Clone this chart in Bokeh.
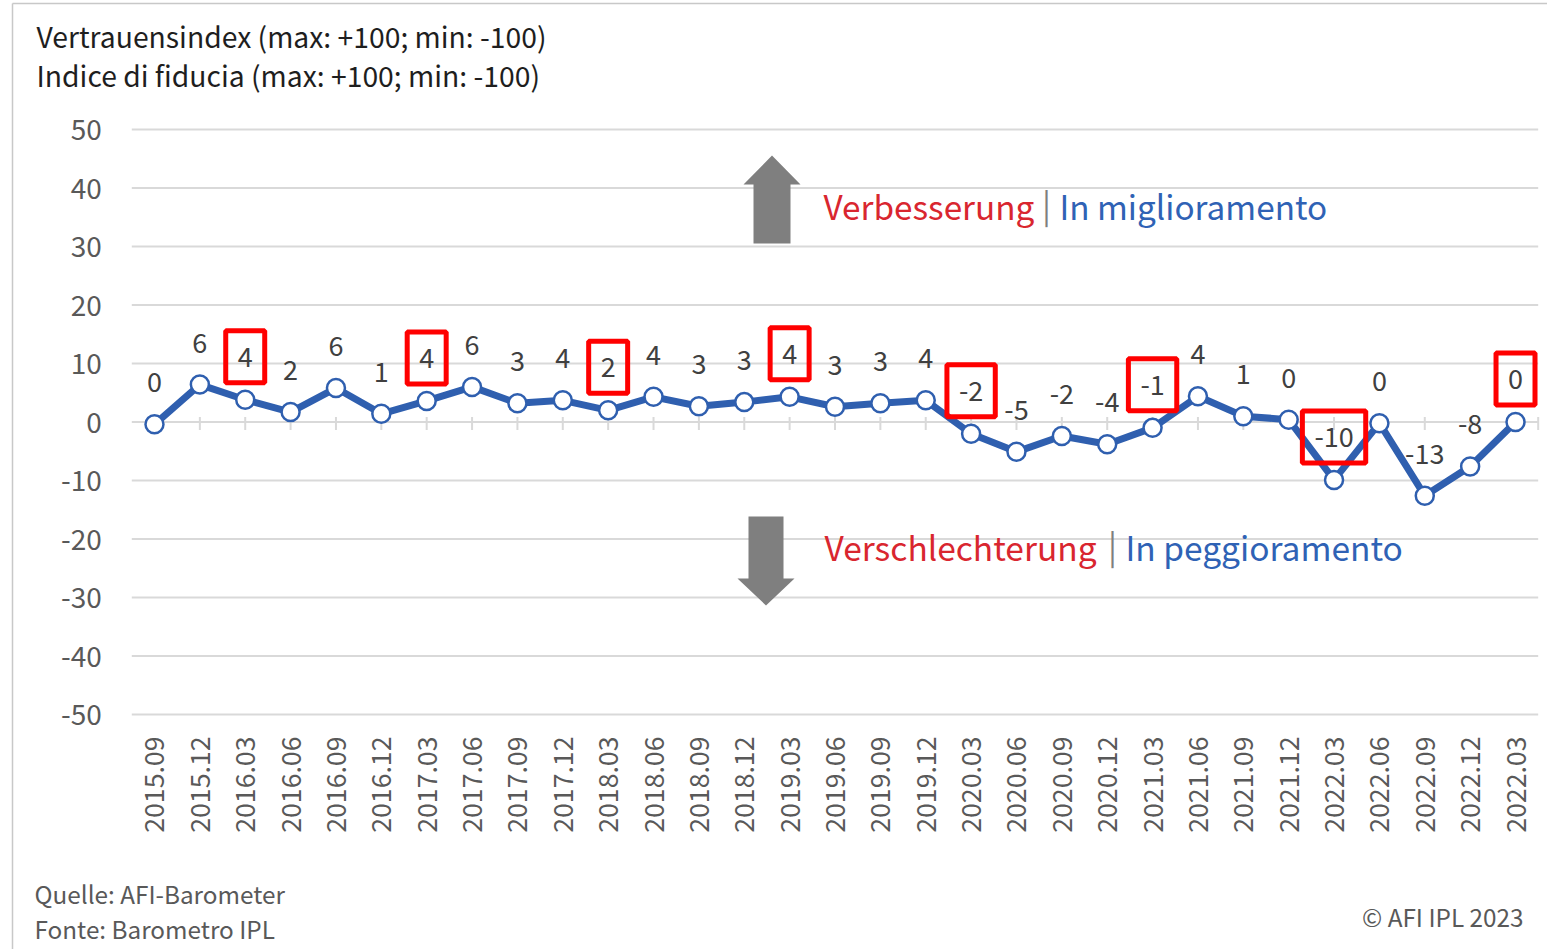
from bokeh.plotting import figure
from bokeh.models import Range1d, Label, ColumnDataSource, FixedTicker
from bokeh.core.properties import value
from bokeh.embed import file_html
from bokeh.resources import INLINE
import math

# ---------------- data ----------------
periods = ["2015.09", "2015.12", "2016.03", "2016.06", "2016.09", "2016.12",
           "2017.03", "2017.06", "2017.09", "2017.12", "2018.03", "2018.06",
           "2018.09", "2018.12", "2019.03", "2019.06", "2019.09", "2019.12",
           "2020.03", "2020.06", "2020.09", "2020.12", "2021.03", "2021.06",
           "2021.09", "2021.12", "2022.03", "2022.06", "2022.09", "2022.12",
           "2022.03"]
index_values = [-0.4, 6.4, 3.8, 1.7, 5.8, 1.4, 3.6, 6.0, 3.2, 3.7, 2.0, 4.3,
                2.7, 3.4, 4.3, 2.6, 3.2, 3.7, -2.0, -5.1, -2.4, -3.8, -1.0, 4.4,
                1.0, 0.4, -9.9, -0.2, -12.6, -7.6, 0.0]
value_labels = ["0", "6", "4", "2", "6", "1", "4", "6", "3", "4", "2", "4",
                "3", "3", "4", "3", "3", "4", "-2", "-5", "-2", "-4", "-1", "4",
                "1", "0", "-10", "0", "-13", "-8", "0"]
highlighted_idx = [2, 6, 10, 14, 18, 22, 26, 30]
y_ticks = [-50, -40, -30, -20, -10, 0, 10, 20, 30, 40, 50]
y_tick_labels = ["-50", "-40", "-30", "-20", "-10", "0", "10", "20", "30", "40", "50"]

title_lines = ["Vertrauensindex (max: +100; min: -100)",
               "Indice di fiducia (max: +100; min: -100)"]
source_lines = ["Quelle: AFI-Barometer", "Fonte: Barometro IPL"]
copyright_text = "© AFI IPL 2023"
up_de, up_it = "Verbesserung", "In miglioramento"
down_de, down_it = "Verschlechterung", "In peggioramento"

# ---------------- layout (picture pixels) ----------------
FONT = "Noto Sans CJK SC"
n = len(periods)
xs = list(range(n))
YMIN, YMAX = y_ticks[0], y_ticks[-1]

W, H = 1547, 949           # canvas size
XL, XR = 131.3, 1537.7     # x of plot area left / right
YT, YB = 129.0, 714.0      # y of +50 / -50
PPX = (XR - XL) / n
PPY = (YB - YT) / (YMAX - YMIN)

def dx(px):
    return -0.5 + (px - XL) / PPX
def dy(py):
    return YMAX - (py - YT) / PPY

p = figure(width=W, height=H,
           min_border_left=0, min_border_right=0, min_border_top=0, min_border_bottom=0,
           x_range=Range1d(dx(0), dx(W)), y_range=Range1d(dy(H), dy(0)),
           output_backend="svg", toolbar_location=None)
p.title.visible = False
p.outline_line_color = None
p.background_fill_color = "white"
p.border_fill_color = "white"
p.xgrid.visible = False
p.ygrid.visible = False

# chart-area border (left and top edge)
p.segment(x0=[dx(12), dx(12)], y0=[dy(3), dy(3)], x1=[dx(12), dx(W)], y1=[dy(H), dy(3)],
          line_color="#c8c8c8", line_width=1.5)

# horizontal grid lines at the y ticks
p.segment(x0=[-0.5] * len(y_ticks), y0=y_ticks, x1=[n - 0.5] * len(y_ticks), y1=y_ticks,
          line_color="#d9d9d9", line_width=2)

# y axis
p.yaxis.fixed_location = -0.5
p.yaxis.ticker = FixedTicker(ticks=y_ticks)
p.yaxis.major_label_overrides = {t: l for t, l in zip(y_ticks, y_tick_labels)}
p.yaxis.axis_line_color = None
p.yaxis.major_tick_line_color = None
p.yaxis.minor_tick_line_color = None
p.yaxis.major_tick_out = 0
p.yaxis.major_label_standoff = 30
p.yaxis.major_label_text_font = FONT
p.yaxis.major_label_text_font_size = "28px"
p.yaxis.major_label_text_color = "#595959"

# x axis
p.xaxis.fixed_location = YMIN
p.xaxis.ticker = FixedTicker(ticks=xs)
p.xaxis.major_label_overrides = {i: s for i, s in enumerate(periods)}
p.xaxis.major_label_orientation = math.pi / 2
p.xaxis.axis_line_color = None
p.xaxis.major_tick_line_color = None
p.xaxis.minor_tick_line_color = None
p.xaxis.major_tick_out = 0
p.xaxis.major_label_standoff = 22
p.xaxis.major_label_text_font = FONT
p.xaxis.major_label_text_font_size = "26.7px"
p.xaxis.major_label_text_color = "#595959"

# small tick marks on the zero line (categories + right edge)
tick_x = xs + [n - 0.5]
p.segment(x0=tick_x, y0=[-8 / PPY] * len(tick_x), x1=tick_x, y1=[5 / PPY] * len(tick_x),
          line_color="#d9d9d9", line_width=2)

# arrows
up = [(753, 243), (790, 243), (790, 184), (800, 184), (771.5, 155), (743, 184), (753, 184)]
down = [(748, 516), (783, 516), (783, 578), (794, 578), (765.5, 605), (737, 578), (748, 578)]
for pts in (up, down):
    p.patch([dx(a) for a, b in pts], [dy(b) for a, b in pts],
            fill_color="#7f7f7f", line_color=None)

# series
BLUE = "#2f5faf"
src = ColumnDataSource(dict(x=xs, y=index_values))
p.line("x", "y", source=src, line_color=BLUE, line_width=7, line_join="round")
p.scatter("x", "y", source=src, size=18, fill_color="white",
          line_color=BLUE, line_width=2.5)

normal = ColumnDataSource(dict(
    x=[xs[i] for i in range(n) if i not in highlighted_idx],
    y=[index_values[i] for i in range(n) if i not in highlighted_idx],
    lab=[value_labels[i] for i in range(n) if i not in highlighted_idx]))
hi = ColumnDataSource(dict(
    x=[xs[i] for i in highlighted_idx],
    y=[index_values[i] for i in highlighted_idx],
    lab=[value_labels[i] for i in highlighted_idx]))
p.text("x", "y", text="lab", source=normal, text_font=value(FONT),
       text_font_size="27px", text_color="#404040", text_align="center",
       text_baseline="middle", y_offset=-42)
p.text("x", "y", text="lab", source=hi, text_font=value(FONT),
       text_font_size="27px", text_color="#404040", text_align="center",
       text_baseline="middle", y_offset=-43,
       border_line_color="#ff0000", border_line_width=5, padding=(12, 12, 16, 16))

# texts
RED, TBLUE, GREY = "#d9262f", "#2f62b5", "#7f7f7f"
def lab(txt, px, py, size, color, align="left"):
    p.add_layout(Label(x=dx(px), y=dy(py), text=txt,
                       text_font=FONT, text_font_size=size, text_color=color,
                       text_align=align, text_baseline="middle"))

lab(title_lines[0], 36, 35, "28.3px", "#1e1e1e")
lab(title_lines[1], 36, 74, "28.3px", "#1e1e1e")
lab(source_lines[0], 34, 893, "24.3px", "#595959")
lab(source_lines[1], 34, 928, "24.3px", "#595959")
lab(copyright_text, 1523, 916, "24.3px", "#595959", "right")

lab(up_de, 823, 205, "33.3px", RED)
lab("|", 1046, 203, "33.3px", GREY, "center")
lab(up_it, 1059, 205, "33.3px", TBLUE)
lab(down_de, 824, 546, "33.5px", RED)
lab("|", 1112, 544, "33.3px", GREY, "center")
lab(down_it, 1125, 546, "33.5px", TBLUE)

open("out.html", "w").write(file_html(p, INLINE))
